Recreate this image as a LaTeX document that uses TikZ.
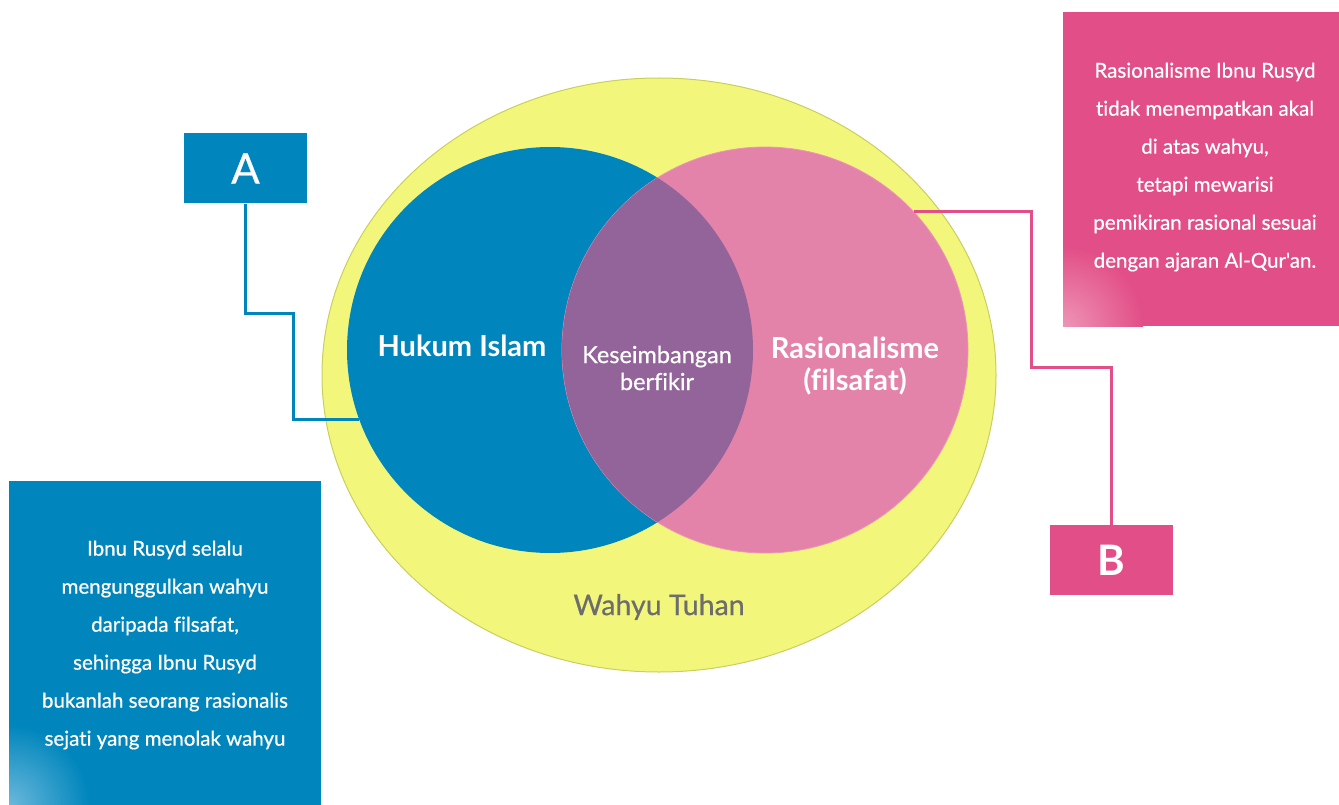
\documentclass[tikz,border=0pt]{standalone}
\usepackage{fontspec}
\setmainfont{Lato}[Ligatures=NoCommon]
\newfontfamily\medfont{Lato}[Ligatures=NoCommon,FakeBold=0.6]
\usetikzlibrary{shapes.geometric}
\definecolor{ylw}{HTML}{F2F77C}
\definecolor{ylwedge}{HTML}{C9CE5E}
\definecolor{blu}{HTML}{0086BC}
\definecolor{bluelight}{HTML}{6BB8DC}
\definecolor{pnk}{HTML}{E383A9}
\definecolor{pnkbox}{HTML}{E24E87}
\definecolor{pnklight}{HTML}{EE94B6}
\definecolor{purp}{HTML}{93649A}
\definecolor{graytext}{HTML}{6D6D6D}
\begin{document}
\begin{tikzpicture}[x=1pt,y=-1pt,
  disc/.style={circle,inner sep=0pt,minimum size=406pt},
  letterbox/.style={rectangle,inner sep=0pt,minimum width=123pt,minimum height=70pt,text=white,font=\fontsize{42}{42}\selectfont},
  infobox/.style={rectangle,inner sep=0pt,text=white,align=center,font=\medfont\fontsize{20.5}{38}\selectfont},
  conn/.style={line width=3pt,line join=miter}
]
\useasboundingbox (0,0) rectangle (1339,805);
% outer ellipse
\node[ellipse,draw=ylwedge,line width=1pt,fill=ylw,minimum width=674pt,minimum height=594pt,inner sep=0pt] (wahyu) at (659,375) {};
% circles
\node[disc,fill=blu] (hukum) at (550,350) {};
\node[disc,fill=pnk,draw=pnklight,line width=0.8pt] (rasio) at (765,350) {};
\begin{scope}
  \clip (550,350) circle (203pt);
  \fill[purp] (765,350) circle (203pt);
\end{scope}
% texts in diagram
\node[text=white,font=\bfseries\fontsize{29}{30}\selectfont] (thukum) at (462,346) {Hukum Islam};
\node[text=white,align=center,font=\medfont\fontsize{23.5}{27}\selectfont] (tkes) at (657,368) {Keseimbangan\\berfikir};
\node[text=white,align=center,font=\bfseries\fontsize{29}{32}\selectfont] (trasio) at (855,366) {Rasionalisme\\(filsafat)};
\node[text=graytext,font=\medfont\fontsize{28.5}{30}\selectfont] (twahyu) at (659,607) {Wahyu Tuhan};
% letter boxes
\node[letterbox,fill=blu] (boxA) at (245.5,168.5) {\medfont A};
\node[letterbox,fill=pnkbox] (boxB) at (1111.5,560) {\bfseries B};
% info boxes
\begin{scope}
  \clip (9,481) rectangle (321,805);
  \fill[blu] (9,481) rectangle (321,805);
  \shade[inner color=bluelight,outer color=blu] (9,805) circle (80pt);
\end{scope}
\node[infobox,minimum width=312pt,minimum height=324pt] (infoA) at (165,645) {Ibnu Rusyd selalu\\mengunggulkan wahyu\\daripada filsafat,\\sehingga Ibnu Rusyd\\bukanlah seorang rasionalis\\sejati yang menolak wahyu};
\begin{scope}
  \clip (1063,12) rectangle (1339,326);
  \fill[pnkbox] (1063,12) rectangle (1339,326);
  \shade[inner color=pnklight,outer color=pnkbox] (1063,326) circle (80pt);
\end{scope}
\node[infobox,minimum width=276pt,minimum height=314pt] (infoB) at (1205,167) {Rasionalisme Ibnu Rusyd\\tidak menempatkan akal\\di atas wahyu,\\tetapi mewarisi\\pemikiran rasional sesuai\\dengan ajaran Al-Qur'an.};
% connectors
\draw[conn,draw=blu] (boxA.south) |- (293,313) |- (hukum.200);
\draw[conn,draw=pnkbox] (rasio.43) -| (1031,367) -| (boxB.north);
\end{tikzpicture}
\end{document}
